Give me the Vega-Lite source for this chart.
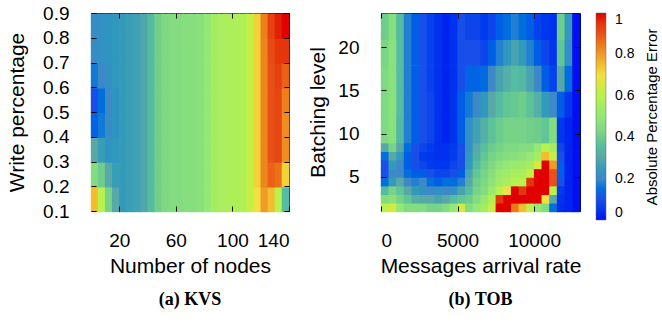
{
"$schema":"https://vega.github.io/schema/vega-lite/v6.json",
"padding":{"left":6,"top":3,"right":0,"bottom":0},
"config":{
 "view":{"stroke":"black","strokeWidth":1},
 "font":"Liberation Sans",
 "rect":{"binSpacing":0},
 "axis":{"labelFont":"Liberation Sans","labelFontSize":19,"titleFont":"Liberation Sans","titleFontSize":21,"titleFontWeight":"normal","labelColor":"black","titleColor":"black","tickColor":"black","domain":false,"grid":false,"tickSize":-5,"labelOverlap":false},
 "axisX":{"labelPadding":25,"titlePadding":5},
 "axisY":{"labelPadding":27},
 "title":{"font":"Liberation Serif","fontSize":18,"fontWeight":"bold","color":"black"}
},
"datasets":{
"kvs":[
{"x":0,"y":0.1,"v":0.75},{"x":5,"y":0.1,"v":0.6},{"x":10,"y":0.1,"v":0.42},{"x":15,"y":0.1,"v":0.3},{"x":20,"y":0.1,"v":0.25},{"x":25,"y":0.1,"v":0.26},{"x":30,"y":0.1,"v":0.27},{"x":35,"y":0.1,"v":0.29},{"x":40,"y":0.1,"v":0.35},{"x":45,"y":0.1,"v":0.41},{"x":50,"y":0.1,"v":0.44},{"x":55,"y":0.1,"v":0.45},{"x":60,"y":0.1,"v":0.45},{"x":65,"y":0.1,"v":0.46},{"x":70,"y":0.1,"v":0.46},{"x":75,"y":0.1,"v":0.47},{"x":80,"y":0.1,"v":0.5},{"x":85,"y":0.1,"v":0.55},{"x":90,"y":0.1,"v":0.56},{"x":95,"y":0.1,"v":0.57},{"x":100,"y":0.1,"v":0.57},{"x":105,"y":0.1,"v":0.58},{"x":110,"y":0.1,"v":0.62},{"x":115,"y":0.1,"v":0.7},{"x":120,"y":0.1,"v":0.8},{"x":125,"y":0.1,"v":0.75},{"x":130,"y":0.1,"v":0.6},{"x":135,"y":0.1,"v":0.35},
{"x":0,"y":0.2,"v":0.45},{"x":5,"y":0.2,"v":0.4},{"x":10,"y":0.2,"v":0.3},{"x":15,"y":0.2,"v":0.26},{"x":20,"y":0.2,"v":0.25},{"x":25,"y":0.2,"v":0.26},{"x":30,"y":0.2,"v":0.27},{"x":35,"y":0.2,"v":0.29},{"x":40,"y":0.2,"v":0.35},{"x":45,"y":0.2,"v":0.41},{"x":50,"y":0.2,"v":0.44},{"x":55,"y":0.2,"v":0.45},{"x":60,"y":0.2,"v":0.45},{"x":65,"y":0.2,"v":0.46},{"x":70,"y":0.2,"v":0.46},{"x":75,"y":0.2,"v":0.47},{"x":80,"y":0.2,"v":0.5},{"x":85,"y":0.2,"v":0.55},{"x":90,"y":0.2,"v":0.56},{"x":95,"y":0.2,"v":0.57},{"x":100,"y":0.2,"v":0.57},{"x":105,"y":0.2,"v":0.58},{"x":110,"y":0.2,"v":0.62},{"x":115,"y":0.2,"v":0.72},{"x":120,"y":0.2,"v":0.83},{"x":125,"y":0.2,"v":0.88},{"x":130,"y":0.2,"v":0.86},{"x":135,"y":0.2,"v":0.72},
{"x":0,"y":0.3,"v":0.3},{"x":5,"y":0.3,"v":0.26},{"x":10,"y":0.3,"v":0.23},{"x":15,"y":0.3,"v":0.24},{"x":20,"y":0.3,"v":0.25},{"x":25,"y":0.3,"v":0.26},{"x":30,"y":0.3,"v":0.27},{"x":35,"y":0.3,"v":0.29},{"x":40,"y":0.3,"v":0.35},{"x":45,"y":0.3,"v":0.41},{"x":50,"y":0.3,"v":0.44},{"x":55,"y":0.3,"v":0.45},{"x":60,"y":0.3,"v":0.45},{"x":65,"y":0.3,"v":0.46},{"x":70,"y":0.3,"v":0.46},{"x":75,"y":0.3,"v":0.47},{"x":80,"y":0.3,"v":0.5},{"x":85,"y":0.3,"v":0.55},{"x":90,"y":0.3,"v":0.56},{"x":95,"y":0.3,"v":0.57},{"x":100,"y":0.3,"v":0.57},{"x":105,"y":0.3,"v":0.58},{"x":110,"y":0.3,"v":0.62},{"x":115,"y":0.3,"v":0.72},{"x":120,"y":0.3,"v":0.83},{"x":125,"y":0.3,"v":0.9},{"x":130,"y":0.3,"v":0.92},{"x":135,"y":0.3,"v":0.82},
{"x":0,"y":0.4,"v":0.13},{"x":5,"y":0.4,"v":0.17},{"x":10,"y":0.4,"v":0.21},{"x":15,"y":0.4,"v":0.23},{"x":20,"y":0.4,"v":0.25},{"x":25,"y":0.4,"v":0.26},{"x":30,"y":0.4,"v":0.27},{"x":35,"y":0.4,"v":0.29},{"x":40,"y":0.4,"v":0.35},{"x":45,"y":0.4,"v":0.41},{"x":50,"y":0.4,"v":0.44},{"x":55,"y":0.4,"v":0.45},{"x":60,"y":0.4,"v":0.45},{"x":65,"y":0.4,"v":0.46},{"x":70,"y":0.4,"v":0.46},{"x":75,"y":0.4,"v":0.47},{"x":80,"y":0.4,"v":0.5},{"x":85,"y":0.4,"v":0.55},{"x":90,"y":0.4,"v":0.56},{"x":95,"y":0.4,"v":0.57},{"x":100,"y":0.4,"v":0.57},{"x":105,"y":0.4,"v":0.58},{"x":110,"y":0.4,"v":0.62},{"x":115,"y":0.4,"v":0.72},{"x":120,"y":0.4,"v":0.83},{"x":125,"y":0.4,"v":0.9},{"x":130,"y":0.4,"v":0.92},{"x":135,"y":0.4,"v":0.82},
{"x":0,"y":0.5,"v":0.1},{"x":5,"y":0.5,"v":0.15},{"x":10,"y":0.5,"v":0.2},{"x":15,"y":0.5,"v":0.23},{"x":20,"y":0.5,"v":0.25},{"x":25,"y":0.5,"v":0.26},{"x":30,"y":0.5,"v":0.27},{"x":35,"y":0.5,"v":0.29},{"x":40,"y":0.5,"v":0.35},{"x":45,"y":0.5,"v":0.41},{"x":50,"y":0.5,"v":0.44},{"x":55,"y":0.5,"v":0.45},{"x":60,"y":0.5,"v":0.45},{"x":65,"y":0.5,"v":0.46},{"x":70,"y":0.5,"v":0.46},{"x":75,"y":0.5,"v":0.47},{"x":80,"y":0.5,"v":0.5},{"x":85,"y":0.5,"v":0.55},{"x":90,"y":0.5,"v":0.56},{"x":95,"y":0.5,"v":0.57},{"x":100,"y":0.5,"v":0.57},{"x":105,"y":0.5,"v":0.58},{"x":110,"y":0.5,"v":0.62},{"x":115,"y":0.5,"v":0.72},{"x":120,"y":0.5,"v":0.83},{"x":125,"y":0.5,"v":0.9},{"x":130,"y":0.5,"v":0.92},{"x":135,"y":0.5,"v":0.84},
{"x":0,"y":0.6,"v":0.17},{"x":5,"y":0.6,"v":0.2},{"x":10,"y":0.6,"v":0.22},{"x":15,"y":0.6,"v":0.24},{"x":20,"y":0.6,"v":0.25},{"x":25,"y":0.6,"v":0.26},{"x":30,"y":0.6,"v":0.27},{"x":35,"y":0.6,"v":0.29},{"x":40,"y":0.6,"v":0.35},{"x":45,"y":0.6,"v":0.41},{"x":50,"y":0.6,"v":0.44},{"x":55,"y":0.6,"v":0.45},{"x":60,"y":0.6,"v":0.45},{"x":65,"y":0.6,"v":0.46},{"x":70,"y":0.6,"v":0.46},{"x":75,"y":0.6,"v":0.47},{"x":80,"y":0.6,"v":0.5},{"x":85,"y":0.6,"v":0.55},{"x":90,"y":0.6,"v":0.56},{"x":95,"y":0.6,"v":0.57},{"x":100,"y":0.6,"v":0.57},{"x":105,"y":0.6,"v":0.58},{"x":110,"y":0.6,"v":0.62},{"x":115,"y":0.6,"v":0.72},{"x":120,"y":0.6,"v":0.83},{"x":125,"y":0.6,"v":0.9},{"x":130,"y":0.6,"v":0.93},{"x":135,"y":0.6,"v":0.88},
{"x":0,"y":0.7,"v":0.21},{"x":5,"y":0.7,"v":0.22},{"x":10,"y":0.7,"v":0.23},{"x":15,"y":0.7,"v":0.24},{"x":20,"y":0.7,"v":0.25},{"x":25,"y":0.7,"v":0.26},{"x":30,"y":0.7,"v":0.27},{"x":35,"y":0.7,"v":0.29},{"x":40,"y":0.7,"v":0.35},{"x":45,"y":0.7,"v":0.41},{"x":50,"y":0.7,"v":0.44},{"x":55,"y":0.7,"v":0.45},{"x":60,"y":0.7,"v":0.45},{"x":65,"y":0.7,"v":0.46},{"x":70,"y":0.7,"v":0.46},{"x":75,"y":0.7,"v":0.47},{"x":80,"y":0.7,"v":0.5},{"x":85,"y":0.7,"v":0.55},{"x":90,"y":0.7,"v":0.56},{"x":95,"y":0.7,"v":0.57},{"x":100,"y":0.7,"v":0.57},{"x":105,"y":0.7,"v":0.58},{"x":110,"y":0.7,"v":0.62},{"x":115,"y":0.7,"v":0.72},{"x":120,"y":0.7,"v":0.83},{"x":125,"y":0.7,"v":0.91},{"x":130,"y":0.7,"v":0.95},{"x":135,"y":0.7,"v":0.95},
{"x":0,"y":0.8,"v":0.21},{"x":5,"y":0.8,"v":0.22},{"x":10,"y":0.8,"v":0.23},{"x":15,"y":0.8,"v":0.24},{"x":20,"y":0.8,"v":0.25},{"x":25,"y":0.8,"v":0.26},{"x":30,"y":0.8,"v":0.27},{"x":35,"y":0.8,"v":0.29},{"x":40,"y":0.8,"v":0.35},{"x":45,"y":0.8,"v":0.41},{"x":50,"y":0.8,"v":0.44},{"x":55,"y":0.8,"v":0.45},{"x":60,"y":0.8,"v":0.45},{"x":65,"y":0.8,"v":0.46},{"x":70,"y":0.8,"v":0.46},{"x":75,"y":0.8,"v":0.47},{"x":80,"y":0.8,"v":0.5},{"x":85,"y":0.8,"v":0.55},{"x":90,"y":0.8,"v":0.56},{"x":95,"y":0.8,"v":0.57},{"x":100,"y":0.8,"v":0.57},{"x":105,"y":0.8,"v":0.58},{"x":110,"y":0.8,"v":0.62},{"x":115,"y":0.8,"v":0.72},{"x":120,"y":0.8,"v":0.84},{"x":125,"y":0.8,"v":0.93},{"x":130,"y":0.8,"v":0.98},{"x":135,"y":0.8,"v":1.0}
],
"tobA":[
{"x":0,"y":1,"v":0.6},{"x":500,"y":1,"v":0.65},{"x":1000,"y":1,"v":0.5},{"x":1500,"y":1,"v":0.45},{"x":2000,"y":1,"v":0.45},{"x":2500,"y":1,"v":0.45},{"x":3000,"y":1,"v":0.42},{"x":3500,"y":1,"v":0.42},{"x":4000,"y":1,"v":0.45},{"x":4500,"y":1,"v":0.5},{"x":5000,"y":1,"v":0.65},{"x":5500,"y":1,"v":0.45},{"x":6000,"y":1,"v":0.5},{"x":6500,"y":1,"v":0.55},{"x":7000,"y":1,"v":0.62},{"x":7500,"y":1,"v":1.0},{"x":8000,"y":1,"v":1.0},{"x":8500,"y":1,"v":0.85},{"x":9000,"y":1,"v":0.75},{"x":9500,"y":1,"v":0.6},{"x":10000,"y":1,"v":0.5},{"x":10500,"y":1,"v":0.45},{"x":11000,"y":1,"v":0.15},{"x":11500,"y":1,"v":0.03},{"x":12000,"y":1,"v":0.02},{"x":12500,"y":1,"v":0.0},
{"x":0,"y":2,"v":0.45},{"x":500,"y":2,"v":0.47},{"x":1000,"y":2,"v":0.42},{"x":1500,"y":2,"v":0.38},{"x":2000,"y":2,"v":0.32},{"x":2500,"y":2,"v":0.3},{"x":3000,"y":2,"v":0.3},{"x":3500,"y":2,"v":0.28},{"x":4000,"y":2,"v":0.3},{"x":4500,"y":2,"v":0.35},{"x":5000,"y":2,"v":0.38},{"x":5500,"y":2,"v":0.4},{"x":6000,"y":2,"v":0.45},{"x":6500,"y":2,"v":0.5},{"x":7000,"y":2,"v":0.58},{"x":7500,"y":2,"v":0.95},{"x":8000,"y":2,"v":1.0},{"x":8500,"y":2,"v":1.0},{"x":9000,"y":2,"v":1.0},{"x":9500,"y":2,"v":1.0},{"x":10000,"y":2,"v":1.0},{"x":10500,"y":2,"v":0.7},{"x":11000,"y":2,"v":0.3},{"x":11500,"y":2,"v":0.04},{"x":12000,"y":2,"v":0.02},{"x":12500,"y":2,"v":0.0},
{"x":0,"y":3,"v":0.35},{"x":500,"y":3,"v":0.42},{"x":1000,"y":3,"v":0.38},{"x":1500,"y":3,"v":0.3},{"x":2000,"y":3,"v":0.25},{"x":2500,"y":3,"v":0.22},{"x":3000,"y":3,"v":0.2},{"x":3500,"y":3,"v":0.22},{"x":4000,"y":3,"v":0.2},{"x":4500,"y":3,"v":0.22},{"x":5000,"y":3,"v":0.28},{"x":5500,"y":3,"v":0.35},{"x":6000,"y":3,"v":0.42},{"x":6500,"y":3,"v":0.45},{"x":7000,"y":3,"v":0.52},{"x":7500,"y":3,"v":0.6},{"x":8000,"y":3,"v":0.7},{"x":8500,"y":3,"v":1.0},{"x":9000,"y":3,"v":0.95},{"x":9500,"y":3,"v":1.0},{"x":10000,"y":3,"v":1.0},{"x":10500,"y":3,"v":1.0},{"x":11000,"y":3,"v":0.6},{"x":11500,"y":3,"v":0.06},{"x":12000,"y":3,"v":0.02},{"x":12500,"y":3,"v":0.0},
{"x":0,"y":4,"v":0.15},{"x":500,"y":4,"v":0.25},{"x":1000,"y":4,"v":0.3},{"x":1500,"y":4,"v":0.2},{"x":2000,"y":4,"v":0.18},{"x":2500,"y":4,"v":0.2},{"x":3000,"y":4,"v":0.15},{"x":3500,"y":4,"v":0.12},{"x":4000,"y":4,"v":0.15},{"x":4500,"y":4,"v":0.15},{"x":5000,"y":4,"v":0.18},{"x":5500,"y":4,"v":0.3},{"x":6000,"y":4,"v":0.4},{"x":6500,"y":4,"v":0.44},{"x":7000,"y":4,"v":0.48},{"x":7500,"y":4,"v":0.54},{"x":8000,"y":4,"v":0.56},{"x":8500,"y":4,"v":0.6},{"x":9000,"y":4,"v":0.6},{"x":9500,"y":4,"v":0.95},{"x":10000,"y":4,"v":1.0},{"x":10500,"y":4,"v":1.0},{"x":11000,"y":4,"v":0.9},{"x":11500,"y":4,"v":0.1},{"x":12000,"y":4,"v":0.02},{"x":12500,"y":4,"v":0.0},
{"x":0,"y":5,"v":0.1},{"x":500,"y":5,"v":0.2},{"x":1000,"y":5,"v":0.2},{"x":1500,"y":5,"v":0.15},{"x":2000,"y":5,"v":0.12},{"x":2500,"y":5,"v":0.12},{"x":3000,"y":5,"v":0.1},{"x":3500,"y":5,"v":0.08},{"x":4000,"y":5,"v":0.08},{"x":4500,"y":5,"v":0.1},{"x":5000,"y":5,"v":0.12},{"x":5500,"y":5,"v":0.28},{"x":6000,"y":5,"v":0.38},{"x":6500,"y":5,"v":0.42},{"x":7000,"y":5,"v":0.46},{"x":7500,"y":5,"v":0.52},{"x":8000,"y":5,"v":0.54},{"x":8500,"y":5,"v":0.56},{"x":9000,"y":5,"v":0.56},{"x":9500,"y":5,"v":0.62},{"x":10000,"y":5,"v":1.0},{"x":10500,"y":5,"v":1.0},{"x":11000,"y":5,"v":0.9},{"x":11500,"y":5,"v":0.12},{"x":12000,"y":5,"v":0.02},{"x":12500,"y":5,"v":0.0},
{"x":0,"y":6,"v":0.1},{"x":500,"y":6,"v":0.25},{"x":1000,"y":6,"v":0.2},{"x":1500,"y":6,"v":0.12},{"x":2000,"y":6,"v":0.1},{"x":2500,"y":6,"v":0.08},{"x":3000,"y":6,"v":0.06},{"x":3500,"y":6,"v":0.05},{"x":4000,"y":6,"v":0.05},{"x":4500,"y":6,"v":0.08},{"x":5000,"y":6,"v":0.1},{"x":5500,"y":6,"v":0.25},{"x":6000,"y":6,"v":0.35},{"x":6500,"y":6,"v":0.4},{"x":7000,"y":6,"v":0.44},{"x":7500,"y":6,"v":0.48},{"x":8000,"y":6,"v":0.5},{"x":8500,"y":6,"v":0.52},{"x":9000,"y":6,"v":0.53},{"x":9500,"y":6,"v":0.55},{"x":10000,"y":6,"v":0.65},{"x":10500,"y":6,"v":1.0},{"x":11000,"y":6,"v":0.8},{"x":11500,"y":6,"v":0.12},{"x":12000,"y":6,"v":0.02},{"x":12500,"y":6,"v":0.0},
{"x":0,"y":7,"v":0.15},{"x":500,"y":7,"v":0.3},{"x":1000,"y":7,"v":0.25},{"x":1500,"y":7,"v":0.12},{"x":2000,"y":7,"v":0.1},{"x":2500,"y":7,"v":0.06},{"x":3000,"y":7,"v":0.05},{"x":3500,"y":7,"v":0.04},{"x":4000,"y":7,"v":0.04},{"x":4500,"y":7,"v":0.06},{"x":5000,"y":7,"v":0.1},{"x":5500,"y":7,"v":0.24},{"x":6000,"y":7,"v":0.32},{"x":6500,"y":7,"v":0.38},{"x":7000,"y":7,"v":0.42},{"x":7500,"y":7,"v":0.44},{"x":8000,"y":7,"v":0.46},{"x":8500,"y":7,"v":0.47},{"x":9000,"y":7,"v":0.48},{"x":9500,"y":7,"v":0.5},{"x":10000,"y":7,"v":0.55},{"x":10500,"y":7,"v":0.75},{"x":11000,"y":7,"v":0.62},{"x":11500,"y":7,"v":0.1},{"x":12000,"y":7,"v":0.02},{"x":12500,"y":7,"v":0.0},
{"x":0,"y":8,"v":0.3},{"x":500,"y":8,"v":0.42},{"x":1000,"y":8,"v":0.3},{"x":1500,"y":8,"v":0.15},{"x":2000,"y":8,"v":0.1},{"x":2500,"y":8,"v":0.08},{"x":3000,"y":8,"v":0.06},{"x":3500,"y":8,"v":0.04},{"x":4000,"y":8,"v":0.04},{"x":4500,"y":8,"v":0.06},{"x":5000,"y":8,"v":0.1},{"x":5500,"y":8,"v":0.22},{"x":6000,"y":8,"v":0.3},{"x":6500,"y":8,"v":0.36},{"x":7000,"y":8,"v":0.4},{"x":7500,"y":8,"v":0.42},{"x":8000,"y":8,"v":0.44},{"x":8500,"y":8,"v":0.44},{"x":9000,"y":8,"v":0.45},{"x":9500,"y":8,"v":0.45},{"x":10000,"y":8,"v":0.5},{"x":10500,"y":8,"v":0.6},{"x":11000,"y":8,"v":0.55},{"x":11500,"y":8,"v":0.08},{"x":12000,"y":8,"v":0.02},{"x":12500,"y":8,"v":0.0}
],
"tobB":[
{"x":0,"y":9,"v":0.44},{"x":500,"y":9,"v":0.47},{"x":1000,"y":9,"v":0.34},{"x":1500,"y":9,"v":0.18},{"x":2000,"y":9,"v":0.12},{"x":2500,"y":9,"v":0.1},{"x":3000,"y":9,"v":0.08},{"x":3500,"y":9,"v":0.04},{"x":4000,"y":9,"v":0.02},{"x":4500,"y":9,"v":0.04},{"x":5000,"y":9,"v":0.12},{"x":5500,"y":9,"v":0.22},{"x":6000,"y":9,"v":0.27},{"x":6500,"y":9,"v":0.32},{"x":7000,"y":9,"v":0.37},{"x":7500,"y":9,"v":0.4},{"x":8000,"y":9,"v":0.42},{"x":8500,"y":9,"v":0.42},{"x":9000,"y":9,"v":0.42},{"x":9500,"y":9,"v":0.41},{"x":10000,"y":9,"v":0.4},{"x":10500,"y":9,"v":0.38},{"x":11000,"y":9,"v":0.45},{"x":11500,"y":9,"v":0.05},{"x":12000,"y":9,"v":0.02},{"x":12500,"y":9,"v":0.0},
{"x":0,"y":12,"v":0.44},{"x":500,"y":12,"v":0.47},{"x":1000,"y":12,"v":0.35},{"x":1500,"y":12,"v":0.18},{"x":2000,"y":12,"v":0.12},{"x":2500,"y":12,"v":0.1},{"x":3000,"y":12,"v":0.08},{"x":3500,"y":12,"v":0.04},{"x":4000,"y":12,"v":0.02},{"x":4500,"y":12,"v":0.04},{"x":5000,"y":12,"v":0.12},{"x":5500,"y":12,"v":0.17},{"x":6000,"y":12,"v":0.2},{"x":6500,"y":12,"v":0.24},{"x":7000,"y":12,"v":0.3},{"x":7500,"y":12,"v":0.35},{"x":8000,"y":12,"v":0.38},{"x":8500,"y":12,"v":0.39},{"x":9000,"y":12,"v":0.4},{"x":9500,"y":12,"v":0.37},{"x":10000,"y":12,"v":0.32},{"x":10500,"y":12,"v":0.25},{"x":11000,"y":12,"v":0.2},{"x":11500,"y":12,"v":0.12},{"x":12000,"y":12,"v":0.05},{"x":12500,"y":12,"v":0.0},
{"x":0,"y":15,"v":0.44},{"x":500,"y":15,"v":0.47},{"x":1000,"y":15,"v":0.35},{"x":1500,"y":15,"v":0.18},{"x":2000,"y":15,"v":0.12},{"x":2500,"y":15,"v":0.1},{"x":3000,"y":15,"v":0.07},{"x":3500,"y":15,"v":0.04},{"x":4000,"y":15,"v":0.02},{"x":4500,"y":15,"v":0.04},{"x":5000,"y":15,"v":0.1},{"x":5500,"y":15,"v":0.13},{"x":6000,"y":15,"v":0.13},{"x":6500,"y":15,"v":0.14},{"x":7000,"y":15,"v":0.2},{"x":7500,"y":15,"v":0.28},{"x":8000,"y":15,"v":0.32},{"x":8500,"y":15,"v":0.35},{"x":9000,"y":15,"v":0.34},{"x":9500,"y":15,"v":0.28},{"x":10000,"y":15,"v":0.2},{"x":10500,"y":15,"v":0.12},{"x":11000,"y":15,"v":0.07},{"x":11500,"y":15,"v":0.3},{"x":12000,"y":15,"v":0.15},{"x":12500,"y":15,"v":0.0},
{"x":0,"y":18,"v":0.43},{"x":500,"y":18,"v":0.47},{"x":1000,"y":18,"v":0.35},{"x":1500,"y":18,"v":0.18},{"x":2000,"y":18,"v":0.12},{"x":2500,"y":18,"v":0.1},{"x":3000,"y":18,"v":0.07},{"x":3500,"y":18,"v":0.04},{"x":4000,"y":18,"v":0.02},{"x":4500,"y":18,"v":0.04},{"x":5000,"y":18,"v":0.1},{"x":5500,"y":18,"v":0.1},{"x":6000,"y":18,"v":0.1},{"x":6500,"y":18,"v":0.08},{"x":7000,"y":18,"v":0.12},{"x":7500,"y":18,"v":0.18},{"x":8000,"y":18,"v":0.24},{"x":8500,"y":18,"v":0.28},{"x":9000,"y":18,"v":0.25},{"x":9500,"y":18,"v":0.18},{"x":10000,"y":18,"v":0.12},{"x":10500,"y":18,"v":0.08},{"x":11000,"y":18,"v":0.05},{"x":11500,"y":18,"v":0.38},{"x":12000,"y":18,"v":0.22},{"x":12500,"y":18,"v":0.0},
{"x":0,"y":21,"v":0.4},{"x":500,"y":21,"v":0.46},{"x":1000,"y":21,"v":0.35},{"x":1500,"y":21,"v":0.18},{"x":2000,"y":21,"v":0.12},{"x":2500,"y":21,"v":0.1},{"x":3000,"y":21,"v":0.07},{"x":3500,"y":21,"v":0.04},{"x":4000,"y":21,"v":0.02},{"x":4500,"y":21,"v":0.04},{"x":5000,"y":21,"v":0.1},{"x":5500,"y":21,"v":0.08},{"x":6000,"y":21,"v":0.08},{"x":6500,"y":21,"v":0.06},{"x":7000,"y":21,"v":0.08},{"x":7500,"y":21,"v":0.12},{"x":8000,"y":21,"v":0.15},{"x":8500,"y":21,"v":0.18},{"x":9000,"y":21,"v":0.15},{"x":9500,"y":21,"v":0.12},{"x":10000,"y":21,"v":0.07},{"x":10500,"y":21,"v":0.05},{"x":11000,"y":21,"v":0.04},{"x":11500,"y":21,"v":0.4},{"x":12000,"y":21,"v":0.25},{"x":12500,"y":21,"v":0.0}
]
},
"spacing":17,
"hconcat":[
{
 "width":198,"height":198,
 "title":{"text":"(a) KVS","orient":"bottom","offset":15},
 "layer":[
  {"data":{"name":"kvs"},"mark":{"type":"rect","binSpacing":0,"x2Offset":-0.7,"y2Offset":0.7},
   "encoding":{
    "x":{"field":"x","type":"quantitative","bin":{"binned":true,"step":5},"scale":{"domain":[0,140],"nice":false,"zero":false},"axis":{"orient":"bottom","values":[20,60,100,140],"format":"d","title":"Number of nodes"}},
    "y":{"field":"y","type":"quantitative","bin":{"binned":true,"step":0.1},"scale":{"domain":[0.1,0.9],"nice":false,"zero":false},"axis":{"orient":"left","values":[0.1,0.2,0.3,0.4,0.5,0.6,0.7,0.8,0.9],"format":".1f","title":"Write percentage","titlePadding":15}},
    "color":{"field":"v","type":"quantitative","scale":{"type":"linear","domain":[0,0.1,0.2,0.3,0.4,0.45,0.5,0.6,0.7,0.8,0.9,1],"range":["#0010f0","#1a4ee8","#3f88c8","#58a8a8","#6ecc8c","#84dc80","#94e874","#b8f24c","#f0e040","#f09a28","#e85018","#e00000"]},
     "legend":{"title":"Absolute Percentage Error","titleOrient":"right","titleBaseline":"top","titlePadding":11,"encoding":{"title":{"angle":{"value":-90}}},"gradientLength":207,"gradientThickness":10,"values":[0,0.2,0.4,0.6,0.8,1],"format":"~g","labelFontSize":14,"labelFont":"Liberation Sans","labelColor":"black","labelBaseline":"middle","titleFont":"Liberation Sans","titleFontSize":15,"titleFontWeight":"normal","titleColor":"black","labelOffset":9,"offset":14,"gradientStrokeColor":"#666","gradientStrokeWidth":0.5}}
   }},
  {"data":{"name":"kvs"},"mark":{"type":"rect","opacity":0},
   "encoding":{
    "x":{"field":"x","type":"quantitative","bin":{"binned":true,"step":5},"scale":{"domain":[0,140],"nice":false,"zero":false},"axis":{"orient":"top","values":[20,60,100,140],"labels":false,"title":null}},
    "y":{"field":"y","type":"quantitative","bin":{"binned":true,"step":0.1},"scale":{"domain":[0.1,0.9],"nice":false,"zero":false},"axis":{"orient":"right","values":[0.1,0.2,0.3,0.4,0.5,0.6,0.7,0.8,0.9],"labels":false,"title":null}}
   }}
 ]
},
{
 "width":199,"height":198,
 "title":{"text":"(b) TOB","orient":"bottom","offset":15},
 "layer":[
  {"data":{"name":"tobA"},"mark":{"type":"rect","binSpacing":0,"x2Offset":-0.7,"y2Offset":0.7},
   "encoding":{
    "x":{"field":"x","type":"quantitative","bin":{"binned":true,"step":500},"scale":{"domain":[0,13000],"nice":false,"zero":false},"axis":{"orient":"bottom","values":[0,5000,10000],"format":"d","title":"Messages arrival rate"}},
    "y":{"field":"y","type":"quantitative","bin":{"binned":true,"step":1},"scale":{"domain":[1,24],"nice":false,"zero":false},"axis":{"orient":"left","values":[5,10,15,20],"format":"d","title":"Batching level","titlePadding":9}},
    "color":{"field":"v","type":"quantitative","scale":{"type":"linear","domain":[0,0.1,0.2,0.3,0.4,0.45,0.5,0.6,0.7,0.8,0.9,1],"range":["#0010f0","#1a4ee8","#3f88c8","#58a8a8","#6ecc8c","#84dc80","#94e874","#b8f24c","#f0e040","#f09a28","#e85018","#e00000"]}}
   }},
  {"data":{"name":"tobB"},"mark":{"type":"rect","binSpacing":0,"x2Offset":-0.7,"y2Offset":0.7},
   "encoding":{
    "x":{"field":"x","type":"quantitative","bin":{"binned":true,"step":500},"scale":{"domain":[0,13000],"nice":false,"zero":false},"axis":{"orient":"top","values":[0,5000,10000],"labels":false,"title":null}},
    "y":{"field":"y","type":"quantitative","bin":{"binned":true,"step":3},"scale":{"domain":[1,24],"nice":false,"zero":false},"axis":{"orient":"right","values":[5,10,15,20],"labels":false,"title":null}},
    "color":{"field":"v","type":"quantitative","scale":{"type":"linear","domain":[0,0.1,0.2,0.3,0.4,0.45,0.5,0.6,0.7,0.8,0.9,1],"range":["#0010f0","#1a4ee8","#3f88c8","#58a8a8","#6ecc8c","#84dc80","#94e874","#b8f24c","#f0e040","#f09a28","#e85018","#e00000"]}}
   }}
 ]
}
]
}
